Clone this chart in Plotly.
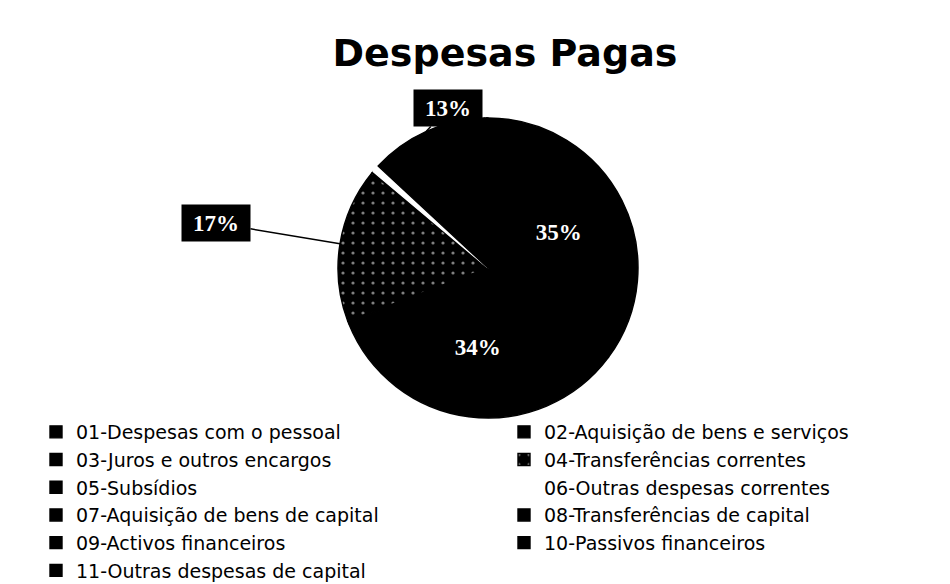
import math
import plotly.graph_objects as go

# ---- data ----
categories = [
    "01-Despesas com o pessoal",
    "02-Aquisição de bens e serviços",
    "03-Juros e outros encargos",
    "04-Transferências correntes",
    "05-Subsídios",
    "06-Outras despesas correntes",
    "07-Aquisição de bens de capital",
    "08-Transferências de capital",
    "09-Activos financeiros",
    "10-Passivos financeiros",
    "11-Outras despesas de capital",
]
values = [35.2, 33.8, 0.3, 16.7, 0.2, 0.8, 12.7, 0.2, 0.05, 0.1, 0.05]
slice_colors = ["#000000", "#000000", "#000000", "#000000", "#000000", "#ffffff",
                "#000000", "#000000", "#000000", "#000000", "#000000"]
inside_labelled = [0, 1]          # slices with inside labels
boxed_labelled = [3, 6]           # slices with boxed outside labels

# ---- layout constants (pixels, figure coordinates) ----
W, H = 950, 584
cx, cy, R = 480, 260, 150
box_pos = {3: (208, 215), 6: (440, 100)}

total = sum(values)
texts = [f"{round(100 * v / total)}%" if i in inside_labelled else ""
         for i, v in enumerate(values)]

pattern_shapes = ["." if i == 3 else "" for i in range(len(values))]
line_colors = ["#ffffff" if c == "#ffffff" else "#000000" for c in slice_colors]

fig = go.Figure()
fig.add_trace(go.Pie(
    labels=categories,
    values=values,
    sort=False,
    direction="clockwise",
    rotation=0,
    text=texts,
    textinfo="text",
    textposition="inside",
    insidetextorientation="horizontal",
    textfont=dict(family="Liberation Serif", size=23, color="white", weight="bold"),
    marker=dict(
        colors=slice_colors,
        line=dict(width=1.4, color=line_colors),
        pattern=dict(shape=pattern_shapes, fgcolor="white", bgcolor="black",
                     size=10, solidity=0.08, fillmode="overlay"),
    ),
    domain=dict(x=[(cx - R) / W, (cx + R) / W], y=[1 - (cy + R) / H, 1 - (cy - R) / H]),
    hoverinfo="label+percent",
    showlegend=True,
))

# boxed labels with leader lines computed from slice geometry
annotations = []
cum = 0.0
for i, v in enumerate(values):
    start = cum
    cum += v
    if i in boxed_labelled:
        mid = (start + v / 2) / total * 2 * math.pi
        tx = cx + R * math.sin(mid)
        ty = cy - R * math.cos(mid)
        bx, by = box_pos[i]
        annotations.append(dict(
            x=tx / W, y=1 - ty / H, xref="paper", yref="paper",
            ax=bx - tx, ay=by - ty, axref="pixel", ayref="pixel",
            text=f"{round(100 * v / total)}%",
            showarrow=True, arrowhead=0, arrowwidth=1.5, arrowcolor="black",
            standoff=0,
            font=dict(family="Liberation Serif", size=23, color="white", weight="bold"),
            bgcolor="black", width=68, height=36, borderpad=0,
        ))

fig.update_layout(
    width=W, height=H,
    margin=dict(l=0, r=0, t=0, b=0, autoexpand=False),
    paper_bgcolor="white",
    plot_bgcolor="white",
    title=dict(text="<b>Despesas Pagas</b>", x=497 / W, xanchor="center",
               y=1 - 45 / H, yanchor="middle",
               font=dict(family="DejaVu Sans", size=38, color="black")),
    legend=dict(orientation="h", x=28 / W, xanchor="left", y=1 - 405 / H, yanchor="top",
                entrywidth=423, entrywidthmode="pixels",
                font=dict(family="DejaVu Sans", size=19, color="black"),
                bgcolor="rgba(0,0,0,0)", traceorder="normal"),
    annotations=annotations,
)

fig.write_html("out.html")
